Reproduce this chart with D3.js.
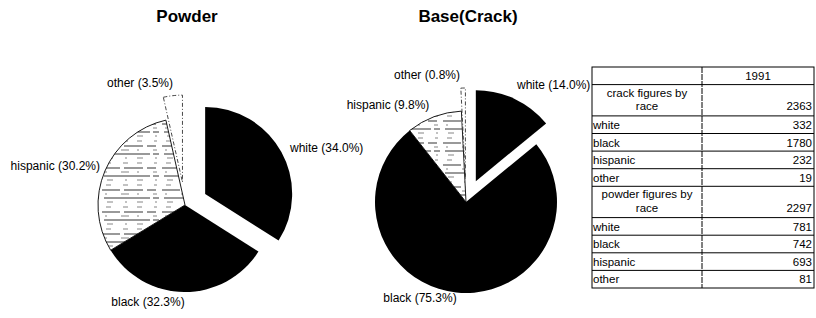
<!DOCTYPE html>
<html>
<head>
<meta charset="utf-8">
<script src="https://cdn.jsdelivr.net/npm/d3@7"></script>
<style>
  html, body { margin: 0; padding: 0; background: #fff; }
  svg { display: block; }
  text { font-family: "Liberation Sans", Arial, Helvetica, sans-serif; fill: #000; }
</style>
</head>
<body>
<svg id="chart" width="816" height="318"></svg>
<script>
// ---- data ----
const races = ["white", "black", "hispanic", "other"];
const year = "1991";
const crackCounts = [332, 1780, 232, 19];
const powderCounts = [781, 742, 693, 81];
const crackTotal = 2363;
const powderTotal = 2297;
const chartTitles = ["Powder", "Base(Crack)"];
const exploded = ["white", "other"];

const svg = d3.select("#chart");
const defs = svg.append("defs");

// light horizontal texture for the hispanic slice
const pat = defs.append("pattern")
  .attr("id", "hatch").attr("patternUnits", "userSpaceOnUse")
  .attr("width", 60).attr("height", 22);
pat.append("rect").attr("width", 60).attr("height", 22).attr("fill", "#fff");
[[2, "3 9 5 12", 0.6], [7, "18 4 9 6", 1.0], [11, "4 8 2 14", 0.6], [15, "25 3 6 5", 1.1], [19, "2 10 6 12", 0.6]]
  .forEach(([y, dash, w]) => {
    pat.append("line").attr("x1", 0).attr("x2", 60).attr("y1", y).attr("y2", y)
      .attr("stroke", "#333").attr("stroke-width", w).attr("stroke-dasharray", dash);
  });

const fmt = d3.format(".1%");

function drawPie(cfg) {
  const data = races.map((r, i) => ({ race: r, value: cfg.counts[i] }));
  const total = d3.sum(data, d => d.value);
  const arcs = d3.pie().sort(null).value(d => d.value)(data);
  const arc = d3.arc().innerRadius(0).outerRadius(cfg.r);
  const g = svg.append("g").attr("transform", `translate(${cfg.cx},${cfg.cy})`);

  g.selectAll("path").data(arcs).join("path")
    .attr("d", arc)
    .attr("transform", d => {
      if (!exploded.includes(d.data.race)) return null;
      const a = (d.startAngle + d.endAngle) / 2;
      return `translate(${Math.sin(a) * cfg.explode},${-Math.cos(a) * cfg.explode})`;
    })
    .attr("fill", d => d.data.race === "hispanic" ? "url(#hatch)" : d.data.race === "other" ? "#fff" : "#000")
    .attr("stroke", d => d.data.race === "hispanic" ? "#000" : d.data.race === "other" ? "#333" : "none")
    .attr("stroke-width", 0.9)
    .attr("stroke-dasharray", d => d.data.race === "other" ? "4 2 1 2" : null);

  svg.append("text").text(cfg.title)
    .attr("x", cfg.titleX).attr("y", 22)
    .attr("text-anchor", "middle").attr("font-weight", "bold").attr("font-size", 17);

  arcs.forEach(d => {
    const L = cfg.labels[d.data.race];
    svg.append("text")
      .text(`${d.data.race} (${fmt(d.value / total)})`)
      .attr("x", L[0]).attr("y", L[1])
      .attr("text-anchor", L[2])
      .attr("font-size", 12);
  });
}

drawPie({
  counts: powderCounts, cx: 185, cy: 205, r: 87, explode: 23,
  title: chartTitles[0], titleX: 187,
  labels: {
    other: [140, 87, "middle"],
    white: [290, 152, "start"],
    hispanic: [100, 170, "end"],
    black: [148, 306, "middle"]
  }
});

drawPie({
  counts: crackCounts, cx: 466, cy: 202, r: 91, explode: 23,
  title: chartTitles[1], titleX: 468,
  labels: {
    other: [427, 79, "middle"],
    white: [517, 89, "start"],
    hispanic: [388, 109, "middle"],
    black: [420, 302, "middle"]
  }
});

// ---- table ----
const rows = [];
rows.push({ kind: "header", lines: [""], value: year });
rows.push({ kind: "section", lines: ["crack figures by", "race"], value: crackTotal });
races.forEach((r, i) => rows.push({ kind: "row", lines: [r], value: crackCounts[i] }));
rows.push({ kind: "section", lines: ["powder figures by", "race"], value: powderTotal });
races.forEach((r, i) => rows.push({ kind: "row", lines: [r], value: powderCounts[i] }));

const tX0 = 592, tX1 = 702, tX2 = 814, tY0 = 67;
const rowH = 17.6, secH = 31.3;
let y = tY0;
rows.forEach(r => { r.y0 = y; r.h = r.kind === "section" ? secH : rowH; y += r.h; });
const tY1 = y;

const tg = svg.append("g").attr("font-size", 11.5);
tg.append("rect").attr("x", tX0).attr("y", tY0).attr("width", tX2 - tX0).attr("height", tY1 - tY0)
  .attr("fill", "none").attr("stroke", "#000").attr("stroke-width", 1);
tg.append("line").attr("x1", tX1).attr("x2", tX1).attr("y1", tY0).attr("y2", tY1)
  .attr("stroke", "#000").attr("stroke-width", 1).attr("stroke-dasharray", "6 1");
tg.selectAll("line.h").data(rows.slice(1)).join("line").attr("class", "h")
  .attr("x1", tX0).attr("x2", tX2).attr("y1", d => d.y0).attr("y2", d => d.y0)
  .attr("stroke", "#000").attr("stroke-width", 1);

rows.forEach(r => {
  if (r.kind === "header") {
    tg.append("text").text(r.value).attr("x", (tX1 + tX2) / 2).attr("y", r.y0 + 13)
      .attr("text-anchor", "middle");
  } else if (r.kind === "section") {
    r.lines.forEach((l, j) => tg.append("text").text(l)
      .attr("x", (tX0 + tX1) / 2).attr("y", r.y0 + 12 + j * 13.5).attr("text-anchor", "middle"));
    tg.append("text").text(r.value).attr("x", tX2 - 2).attr("y", r.y0 + 25.5).attr("text-anchor", "end");
  } else {
    tg.append("text").text(r.lines[0]).attr("x", tX0 + 1).attr("y", r.y0 + 13);
    tg.append("text").text(r.value).attr("x", tX2 - 2).attr("y", r.y0 + 13).attr("text-anchor", "end");
  }
});
</script>
</body>
</html>
